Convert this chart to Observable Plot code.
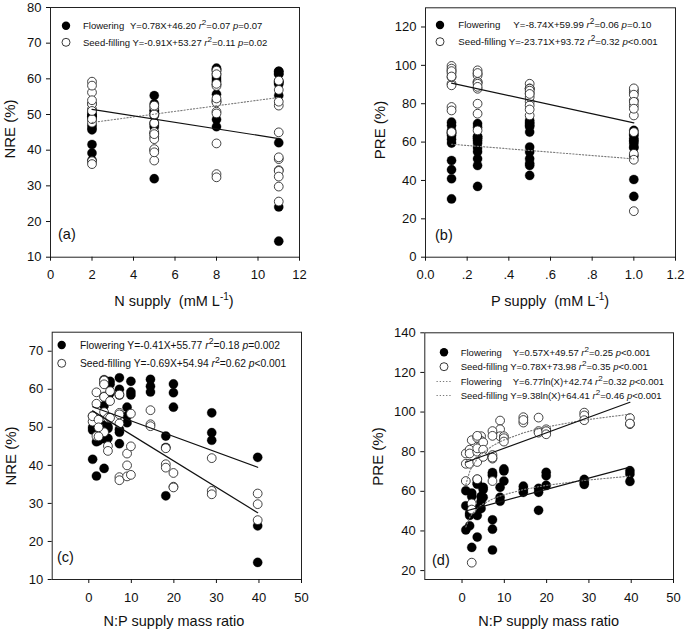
<!DOCTYPE html>
<html><head><meta charset="utf-8">
<script src="https://cdn.jsdelivr.net/npm/d3@7"></script>
<script src="https://cdn.jsdelivr.net/npm/@observablehq/plot@0.6"></script>
<style>
body{margin:0;background:#fff;}
#fig{position:relative;width:685px;height:631px;background:#fff;overflow:hidden;font-family:"Liberation Sans",Arial,sans-serif;}
.panel{position:absolute;}
</style></head><body><div id="fig"></div>
<script>
// ---- treatments (N supply, P supply, N:P supply mass ratio) ----
const nSupply = [2,2,2,2,5,5,5,5,8,8,8,8,11,11,11,11];
const pSupply = [1,0.5,0.25,0.125,1,0.5,0.25,0.125,1,0.5,0.25,0.125,1,0.5,0.25,0.125];
const npRatio = [0.9,1.8,3.6,7.2,2.3,4.5,9.0,18.1,3.6,7.2,14.5,28.9,5.0,9.9,19.9,39.7];

// ---- NRE (%) replicates per treatment ----
const nreFlowering = [[49.3,41.6,50.0],[49.5,46.2,37.2],[39.2,47.0,50.5],[49.5,45.7,48.7],
  [50.0,51.0,46.5],[49.7,47.1,50.2],[55.3,53.0,51.2],[47.7,44.7,32.0],
  [62.5,61.5,55.7],[63.0,60.0,58.5],[62.6,60.8,59.3],[53.8,48.6,46.6],
  [62.1,61.3,59.0],[62.1,59.3,58.5],[61.4,59.1,55.3],[42.1,24.1,14.5]];
const nreSeedFilling = [[53.0,51.5,52.9],[59.2,56.2,47.7],[58.1,54.0,48.7],[36.9,36.1,51.0],
  [52.0,47.6,50.0],[45.1,43.8,52.5],[43.1,40.0,37.1],[44.5,40.3,39.4],
  [62.3,61.3,58.0],[58.6,53.8,53.4],[54.5,50.8,50.3],[41.9,33.3,32.4],
  [59.5,56.9,52.5],[53.6,45.0,37.5],[38.0,34.4,34.2],[32.6,29.8,25.6]];

// ---- PRE (%) replicates per treatment ----
const preFlowering = [[60.3,52.7,40.5],[47.8,42.6,48.9],[51.3,47.8,36.9],[45.6,40.9,30.4],
  [31.7,57.4,59.1],[57.4,54.8,51.3],[62.0,57.0,55.0],[61.5,59.5,50.4],
  [63.6,66.1,64.3],[69.5,68.7,68.0],[62.6,61.0,59.5],[66.0,64.5,63.5],
  [60.9,62.0,57.0],[71.3,70.3,65.2],[69.6,67.8,63.0],[70.4,68.7,65.0]];
const preSeedFilling = [[79.1,73.9,65.2],[81.0,73.9,79.1],[74.8,66.1,80.0],[78.3,76.5,65.2],
  [85.8,53.9,50.8,24.0],[87.8,85.5,83.5],[95.7,91.3,87.8],[97.2,90.4,89.6],
  [87.0,88.0,81.7],[90.4,88.0,77.0],[97.4,94.7,96.0],[99.7,98.3,95.9],
  [84.7,81.0,77.4],[87.8,86.8,85.1],[91.3,90.4,88.8],[97.0,93.9,94.2]];

// ---- fitted regressions [slope, intercept] as printed in the legends ----
const fitA = [[0.78,46.20],[-0.91,53.27]];      // flowering, seed-filling
const fitB = [[-8.74,59.99],[-23.71,93.72]];
const fitC = [[-0.41,55.77],[-0.69,54.94]];
const fitD = [[0.57,49.57],[0.78,73.98]];
const fitDlog = [[6.77,42.74],[9.38,64.41]];

// ---- legend texts ----
const legendA = [["Flowering","Y=0.78X+46.20","0.07","=0.07"],["Seed-filling","Y=-0.91X+53.27","0.11","=0.02"]];
const legendB = [["Flowering","Y=-8.74X+59.99","0.06","=0.10"],["Seed-filling","Y=-23.71X+93.72","0.32","<0.001"]];
const legendC = [["Flowering","Y=-0.41X+55.77","0.18","=0.002"],["Seed-filling","Y=-0.69X+54.94","0.62","<0.001"]];
const legendD = [["Flowering","Y=0.57X+49.57","0.25","<0.001"],["Seed-filling","Y=0.78X+73.98","0.35","<0.001"],
  ["Flowering","Y=6.77ln(X)+42.74","0.32","<0.001"],["Seed-filling","Y=9.38ln(X)+64.41","0.46","<0.001"]];

// ---- ticks ----
const ticksA_x = [0,2,4,6,8,10,12], ticksA_y = [10,20,30,40,50,60,70,80];
const ticksB_x = [0,0.2,0.4,0.6,0.8,1.0,1.2], ticksB_xLabels = ["0.0",".2",".4",".6",".8","1.0","1.2"];
const ticksB_y = [0,20,40,60,80,100,120];
const ticksC_x = [0,10,20,30,40,50], ticksC_y = [10,20,30,40,50,60,70];
const ticksD_x = [0,10,20,30,40,50], ticksD_y = [20,40,60,80,100,120,140];

// ---- build rows ----
function rows(xArr, vals) {
  return vals.flatMap((reps, i) => reps.map(v => ({x: xArr[i], y: v})));
}
function linFit(f, x0, x1) { return [x0, x1].map(x => ({x, y: f[0]*x + f[1]})); }
function logFit(f, xs) { return xs.map(x => ({x, y: f[0]*Math.log(x) + f[1]})); }
const ratioSorted = Array.from(new Set(npRatio)).sort((a,b)=>a-b);

const FONT = '"Liberation Sans", Arial, sans-serif';
const DOT_R = 4.6;
const dotted = {stroke: "#7a7a7a", strokeWidth: 1.1, strokeDasharray: "1.3,1.9"};
const solid = {stroke: "#111", strokeWidth: 1.2};

function makePanel(o) {
  return Plot.plot({
    width: o.width, height: o.height,
    marginLeft: o.ml, marginRight: o.mr, marginTop: o.mt, marginBottom: o.mb,
    x: {domain: o.xDomain, label: null},
    y: {domain: o.yDomain, label: null},
    style: {background: "transparent", color: "#111", fontFamily: FONT, fontSize: "13px", overflow: "visible"},
    marks: [
      Plot.frame({stroke: "#222", strokeWidth: 1}),
      Plot.dot(o.flower, {x: "x", y: "y", r: DOT_R, fill: "#000", stroke: "#000", strokeWidth: 0.3}),
      Plot.dot(o.seed, {x: "x", y: "y", r: 4.4, fill: "#fff", stroke: "#222", strokeWidth: 0.85}),
      ...o.lines,
      Plot.axisX({ticks: o.xTicks, tickSize: 4, tickPadding: 9, tickFormat: o.xFmt || (d => String(d)), label: null}),
      Plot.axisY({ticks: o.yTicks, tickSize: 4, tickPadding: 5, tickFormat: d => String(d), label: null})
    ]
  });
}

const fig = d3.select("#fig");
function place(svg, left, top) {
  const div = fig.append("div").attr("class", "panel").style("left", left + "px").style("top", top + "px");
  div.node().appendChild(svg);
  return d3.select(svg);
}

function legendText(g, x, y, fs, item, eqX) {
  const t = g.append("text").attr("x", x).attr("y", y + fs*0.36).attr("font-size", fs)
    .attr("text-anchor", "start")
    .attr("fill", "#111").attr("font-family", FONT).style("white-space", "pre");
  t.append("tspan").text(item[0]);
  const eq = t.append("tspan").text((eqX == null ? " " : "") + item[1] + " ");
  if (eqX != null) eq.attr("x", eqX);
  t.append("tspan").attr("font-style", "italic").text("r");
  t.append("tspan").attr("dy", -fs*0.42).attr("font-size", fs*0.85).text("2");
  t.append("tspan").attr("dy", fs*0.42).text("=" + item[2] + " ");
  t.append("tspan").attr("font-style", "italic").text("p");
  t.append("tspan").text(item[3]);
}
function marker(g, x, y, type) {
  if (type === "filled") g.append("circle").attr("cx", x).attr("cy", y).attr("r", 4.2).attr("fill", "#000");
  else if (type === "open") g.append("circle").attr("cx", x).attr("cy", y).attr("r", 4).attr("fill", "#fff").attr("stroke", "#222").attr("stroke-width", 0.9);
  else g.append("line").attr("x1", x - 7.5).attr("x2", x + 7.5).attr("y1", y).attr("y2", y)
    .attr("stroke", dotted.stroke).attr("stroke-width", 1.1).attr("stroke-dasharray", dotted.strokeDasharray);
}
function xTitle(s, cx, y, main, sup, tail) {
  const t = s.append("text").attr("x", cx).attr("y", y).attr("text-anchor", "middle").attr("font-size", 14.5)
    .attr("fill", "#111").attr("font-family", FONT).style("white-space", "pre");
  t.append("tspan").text(main);
  if (sup) {
    t.append("tspan").attr("dy", -6).attr("font-size", 10).text(sup);
    t.append("tspan").attr("dy", 6).text(tail);
  }
}
function yTitle(s, bx, cy, txt) {
  s.append("text").attr("transform", `translate(${bx},${cy}) rotate(-90)`).attr("text-anchor", "middle")
    .attr("font-size", 15).attr("fill", "#111").attr("font-family", FONT).text(txt);
}
function panelLabel(s, x, y, txt) {
  s.append("text").attr("x", x).attr("y", y).attr("text-anchor", "start").attr("font-size", 14.5)
    .attr("fill", "#111").attr("font-family", FONT).text(txt);
}

// ---- (a) NRE vs N supply ----
const sA = place(makePanel({
  width: 342, height: 315, ml: 50, mr: 43, mt: 7, mb: 58.3,
  xDomain: [0, 12], yDomain: [10, 80], xTicks: ticksA_x, yTicks: ticksA_y,
  flower: rows(nSupply, nreFlowering), seed: rows(nSupply, nreSeedFilling),
  lines: [
    Plot.line(linFit(fitA[0], 2, 11), {x: "x", y: "y", ...dotted}),
    Plot.line(linFit(fitA[1], 2, 11), {x: "x", y: "y", ...solid})
  ]
}), 0, 0);
{
  const g = sA.append("g");
  marker(g, 66, 25.7, "filled"); marker(g, 66, 42.3, "open");
  legendText(g, 83, 25.7, 9.5, legendA[0], 130);
  legendText(g, 83, 42.3, 9.5, legendA[1], null);
  yTitle(sA, 15, 129, "NRE (%)");
  xTitle(sA, 174, 306, "N supply  (mM L", "-1", ")");
  panelLabel(sA, 58, 239, "(a)");
}

// ---- (b) PRE vs P supply ----
const sB = place(makePanel({
  width: 343, height: 315, ml: 83, mr: 10, mt: 7.3, mb: 58.3,
  xDomain: [0, 1.2], yDomain: [0, 130], xTicks: ticksB_x, yTicks: ticksB_y,
  xFmt: (d, i) => ticksB_xLabels[i],
  flower: rows(pSupply, preFlowering), seed: rows(pSupply, preSeedFilling),
  lines: [
    Plot.line(linFit(fitB[0], 0.125, 1), {x: "x", y: "y", ...dotted}),
    Plot.line(linFit(fitB[1], 0.125, 1), {x: "x", y: "y", ...solid})
  ]
}), 342, 0);
{
  const g = sB.append("g");
  marker(g, 98, 25, "filled"); marker(g, 98, 41.7, "open");
  legendText(g, 116.3, 25, 9.7, legendB[0], 171.3);
  legendText(g, 116.3, 41.7, 9.7, legendB[1], null);
  yTitle(sB, 43, 130, "PRE (%)");
  xTitle(sB, 208, 306, "P supply  (mM L", "-1", ")");
  panelLabel(sB, 93, 240, "(b)");
}

// ---- (c) NRE vs N:P ratio ----
const sC = place(makePanel({
  width: 342, height: 316, ml: 51.7, mr: 41, mt: 16.7, mb: 52,
  xDomain: [-8.6, 50], yDomain: [10, 75], xTicks: ticksC_x, yTicks: ticksC_y,
  flower: rows(npRatio, nreFlowering), seed: rows(npRatio, nreSeedFilling),
  lines: [
    Plot.line(linFit(fitC[0], 0.9, 39.7), {x: "x", y: "y", ...solid}),
    Plot.line(linFit(fitC[1], 0.9, 39.7), {x: "x", y: "y", ...solid})
  ]
}), 0, 315);
{
  const g = sC.append("g");
  marker(g, 61.7, 30, "filled"); marker(g, 61.7, 48.3, "open");
  legendText(g, 80, 30, 10.3, legendC[0], null);
  legendText(g, 80, 48.3, 10.3, legendC[1], null);
  yTitle(sC, 16, 141, "NRE (%)");
  xTitle(sC, 174, 311, "N:P supply mass ratio");
  panelLabel(sC, 57, 247, "(c)");
}

// ---- (d) PRE vs N:P ratio ----
const sD = place(makePanel({
  width: 343, height: 316, ml: 82.3, mr: 12, mt: 17.3, mb: 52,
  xDomain: [-8.8, 50], yDomain: [15.5, 140], xTicks: ticksD_x, yTicks: ticksD_y,
  flower: rows(npRatio, preFlowering), seed: rows(npRatio, preSeedFilling),
  lines: [
    Plot.line(logFit(fitDlog[0], ratioSorted), {x: "x", y: "y", ...dotted}),
    Plot.line(logFit(fitDlog[1], ratioSorted), {x: "x", y: "y", ...dotted}),
    Plot.line(linFit(fitD[0], 0.9, 39.7), {x: "x", y: "y", ...solid}),
    Plot.line(linFit(fitD[1], 0.9, 39.7), {x: "x", y: "y", ...solid})
  ]
}), 342, 315);
{
  const g = sD.append("g");
  marker(g, 102, 37.3, "filled"); marker(g, 102, 51.7, "open");
  marker(g, 102, 66.5, "dotted"); marker(g, 102, 80.5, "dotted");
  legendText(g, 118.7, 37.3, 9.5, legendD[0], 170.7);
  legendText(g, 118.7, 51.7, 9.5, legendD[1], null);
  legendText(g, 118.7, 66.5, 9.5, legendD[2], 170.7);
  legendText(g, 118.7, 80.5, 9.5, legendD[3], null);
  yTitle(sD, 41, 141.5, "PRE (%)");
  xTitle(sD, 206.7, 311, "N:P supply mass ratio");
  panelLabel(sD, 90, 250, "(d)");
}
</script></body></html>
